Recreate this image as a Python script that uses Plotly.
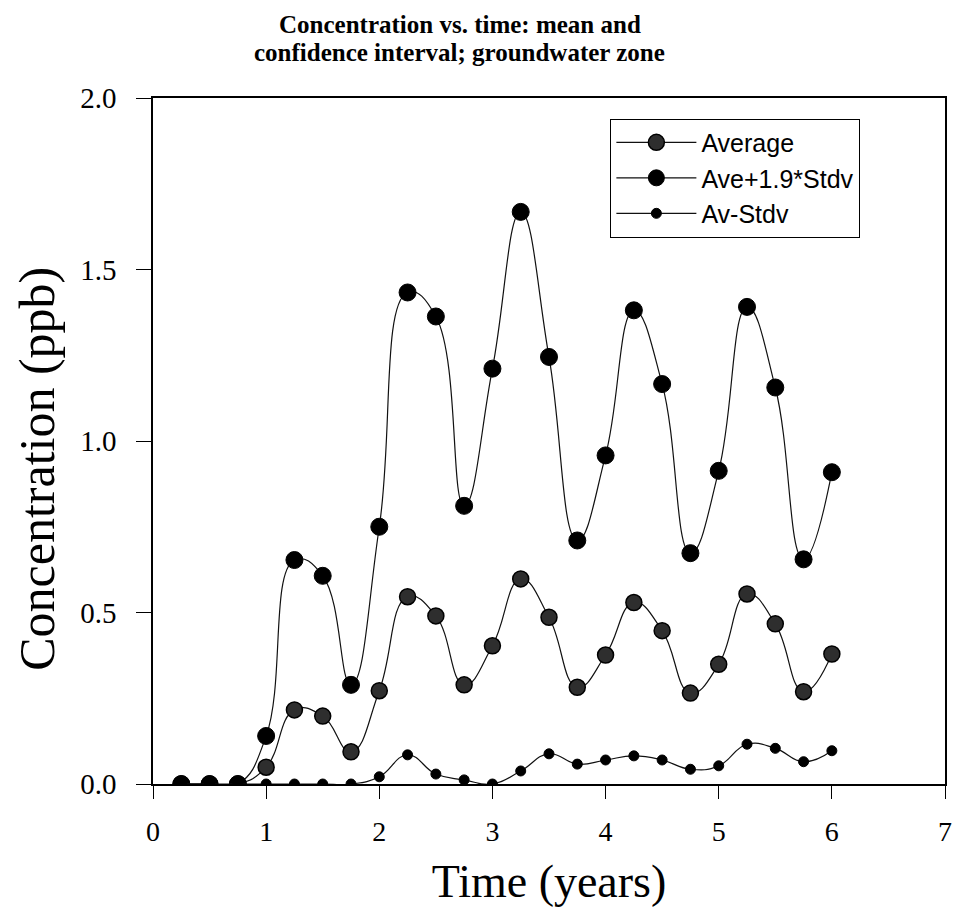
import plotly.graph_objects as go

time_years = [0.25, 0.5, 0.75, 1.0, 1.25, 1.5, 1.75, 2.0, 2.25, 2.5, 2.75, 3.0,
              3.25, 3.5, 3.75, 4.0, 4.25, 4.5, 4.75, 5.0, 5.25, 5.5, 5.75, 6.0]

average = [0.0, 0.0, 0.0, 0.049, 0.216, 0.198, 0.094, 0.272, 0.546, 0.490, 0.289, 0.403,
           0.598, 0.486, 0.282, 0.376, 0.529, 0.447, 0.265, 0.349, 0.554, 0.467, 0.269, 0.379]

ave_plus_19_std = [0.0, 0.0, 0.0, 0.140, 0.653, 0.607, 0.289, 0.750, 1.433, 1.363, 0.811, 1.211,
                   1.668, 1.245, 0.710, 0.958, 1.381, 1.166, 0.673, 0.913, 1.391, 1.156, 0.655, 0.909]

av_minus_std = [0.0, 0.0, 0.0, 0.0, 0.0, 0.0, 0.0, 0.021, 0.085, 0.029, 0.012, 0.0,
                0.038, 0.088, 0.058, 0.070, 0.082, 0.070, 0.043, 0.053, 0.116, 0.104, 0.065, 0.097]

series_names = ["Average", "Ave+1.9*Stdv", "Av-Stdv"]
x_tick_values = [0, 1, 2, 3, 4, 5, 6, 7]
y_tick_values = [0.0, 0.5, 1.0, 1.5, 2.0]
y_tick_labels = ["0.0", "0.5", "1.0", "1.5", "2.0"]

title_lines = ["Concentration vs. time: mean and", "confidence interval; groundwater zone"]
x_title = "Time (years)"
y_title = "Concentration (ppb)"

SERIF = "Liberation Serif, Times New Roman, serif"
SANS = "Liberation Sans, Arial, sans-serif"

fig = go.Figure()

fig.add_trace(go.Scatter(
    x=time_years, y=average, name=series_names[0], mode="lines+markers",
    line=dict(color="#111111", width=1.2, shape="spline", smoothing=1.3),
    marker=dict(symbol="circle", size=16, color="#2e2e2e", line=dict(color="black", width=1.5)),
))
fig.add_trace(go.Scatter(
    x=time_years, y=ave_plus_19_std, name=series_names[1], mode="lines+markers",
    line=dict(color="#111111", width=1.2, shape="spline", smoothing=1.3),
    marker=dict(symbol="circle", size=17, color="black", line=dict(color="black", width=1)),
))
fig.add_trace(go.Scatter(
    x=time_years, y=av_minus_std, name=series_names[2], mode="lines+markers",
    line=dict(color="#111111", width=1.2, shape="spline", smoothing=1.3),
    marker=dict(symbol="circle", size=10, color="black", line=dict(color="black", width=1)),
))

for i, txt in enumerate(title_lines):
    fig.add_annotation(
        text="<b>" + txt + "</b>", xref="paper", yref="paper",
        x=0.3875, y=[1.107, 1.066][i], xanchor="center", yanchor="middle",
        showarrow=False, font=dict(family=SERIF, size=25, color="black"),
    )

fig.add_annotation(
    text=y_title, xref="paper", yref="paper", x=-0.146, y=0.46,
    xanchor="center", yanchor="middle", textangle=-90, showarrow=False,
    font=dict(family=SERIF, size=50, color="black"),
)

fig.update_layout(
    width=960, height=917,
    margin=dict(l=153, r=8, t=98, b=133),
    paper_bgcolor="white", plot_bgcolor="white",
    showlegend=True,
    legend=dict(
        x=0.5775, y=0.970, xanchor="left", yanchor="top",
        bgcolor="white", bordercolor="black", borderwidth=1,
        font=dict(family=SANS, size=25, color="black"),
        itemwidth=80, tracegroupgap=0,
        entrywidth=262, entrywidthmode="pixels",
    ),
    xaxis=dict(
        range=[0, 7], tickvals=x_tick_values,
        showgrid=False, zeroline=False,
        showline=True, linecolor="black", linewidth=1.5, mirror=True,
        ticks="outside", ticklen=13, tickwidth=1, tickcolor="black",
        tickfont=dict(family=SERIF, size=28, color="black"),
        ticklabelstandoff=9,
        title=dict(text=x_title, font=dict(family=SERIF, size=46, color="black"), standoff=18),
    ),
    yaxis=dict(
        range=[0, 2.0], tickvals=y_tick_values, ticktext=y_tick_labels,
        showgrid=False, zeroline=False,
        showline=True, linecolor="black", linewidth=1.5, mirror=True,
        ticks="outside", ticklen=15, tickwidth=1, tickcolor="black",
        tickfont=dict(family=SERIF, size=29, color="black"),
        ticklabelstandoff=14,
    ),
)

fig.write_html("out.html")
